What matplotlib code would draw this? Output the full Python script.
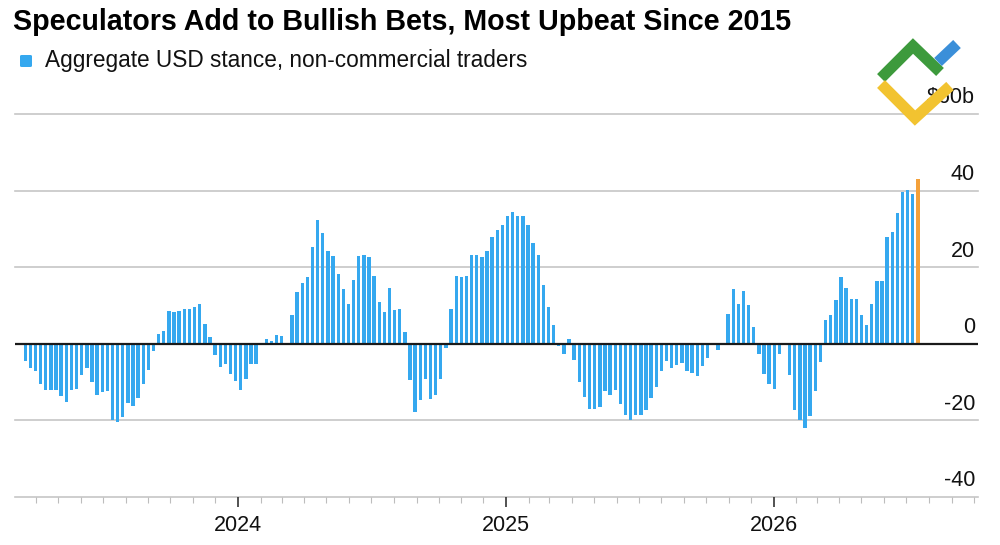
import matplotlib
matplotlib.use('Agg')
import matplotlib.pyplot as plt
import matplotlib.dates as mdates
from matplotlib.lines import Line2D
import pandas as pd

# ---- data (weekly, $bn) ----
values = [
    -4.6, -6.2, -7.0, -10.4, -12.0, -12.0, -12.0, -13.7, -15.3, -12.0,
    -11.7, -8.1, -6.2, -10.1, -13.3, -12.7, -12.3, -19.8, -20.5, -19.1,
    -15.5, -16.2, -14.2, -10.4, -6.8, -1.8, 2.6, 3.4, 8.6, 8.4,
    8.6, 9.0, 9.0, 9.5, 10.3, 5.1, 1.9, -3.0, -6.1, -5.3,
    -8.0, -9.7, -12.1, -9.1, -5.4, -5.4, -0.3, 1.3, 0.8, 2.3,
    2.1, 0.2, 7.5, 13.5, 15.9, 17.4, 25.2, 32.3, 28.9, 24.1,
    23.0, 18.1, 14.4, 10.3, 16.6, 22.8, 23.3, 22.6, 17.6, 11.0,
    8.3, 14.5, 8.8, 9.1, 3.1, -9.5, -17.8, -14.6, -9.1, -14.4,
    -13.4, -9.1, -1.2, 9.1, 17.7, 17.5, 17.7, 23.1, 23.1, 22.7,
    24.1, 28.0, 29.6, 31.0, 33.3, 34.3, 33.4, 33.4, 31.0, 26.3,
    23.3, 15.3, 9.6, 5.0, -0.7, -2.6, 1.2, -4.2, -10.1, -13.9,
    -17.0, -17.0, -16.5, -12.3, -13.3, -12.0, -15.7, -18.5, -20.0, -18.5,
    -18.5, -17.4, -14.2, -11.3, -7.0, -4.6, -6.2, -5.5, -5.0, -7.0,
    -7.7, -8.5, -5.9, -3.7, 0.0, -1.5, 0.0, 7.7, 14.3, 10.4,
    13.9, 10.0, 4.5, -2.7, -7.9, -10.5, -11.8, -2.6, 0.0, -8.1,
    -17.2, -20.0, -22.0, -18.8, -12.3, -4.8, 6.1, 7.4, 11.5, 17.4,
    14.5, 11.7, 11.7, 7.6, 5.0, 10.4, 16.4, 16.4, 27.8, 29.3,
    34.1, 39.7, 40.2, 39.0, 43.0,
]
start_date = '2023-03-17'
dates = pd.date_range(start_date, periods=len(values), freq='7D').to_pydatetime()

ytick_values = [-40, -20, 0, 20, 40, 60]
ytick_labels = ['-40', '-20', '0', '20', '40', '$60b']
title = 'Speculators Add to Bullish Bets, Most Upbeat Since 2015'
legend_label = 'Aggregate USD stance, non-commercial traders'

BLUE = '#35a8ef'
ORANGE = '#f4a13a'

plt.rcParams['font.family'] = ['Liberation Sans', 'DejaVu Sans']

W, H = 1000, 545
fig = plt.figure(figsize=(W / 100, H / 100), dpi=100)
fig.patch.set_facecolor('white')

def fx(px):
    return px / W

def fy(py):
    return 1 - py / H

ax = fig.add_axes([fx(15), fy(497), fx(978) - fx(15), fy(114) - fy(497)])

colors = [BLUE] * (len(values) - 1) + [ORANGE]
ax.bar(dates, values, width=4.6, color=colors, zorder=3, linewidth=0)

ax.set_ylim(-40, 60)
t0 = pd.Timestamp(start_date)
ax.set_xlim(t0 - pd.Timedelta(days=14), t0 + pd.Timedelta(days=1300))

for yv in ytick_values:
    if yv != 0:
        ax.axhline(yv, color='#c6c6c6', lw=1.2, zorder=1, clip_on=False)
ax.axhline(0, color='#1a1a1a', lw=1.6, zorder=4)

for yv, lab in zip(ytick_values, ytick_labels):
    ax.annotate(lab, xy=(0.997, yv), xycoords=('axes fraction', 'data'),
                xytext=(0, 4), textcoords='offset points',
                ha='right', va='bottom', fontsize=15.5, color='#111111', zorder=5)

for s in ax.spines.values():
    s.set_visible(False)
ax.set_yticks([])

ax.xaxis.set_major_locator(mdates.YearLocator())
ax.xaxis.set_major_formatter(mdates.DateFormatter('%Y'))
ax.xaxis.set_minor_locator(mdates.MonthLocator())
ax.tick_params(axis='x', which='major', length=7, width=1.2, color='#333333',
               labelsize=15.5, pad=6, labelcolor='#111111')
ax.tick_params(axis='x', which='minor', length=4, width=0.8, color='#bdbdbd')

# title and legend
fig.text(fx(13), fy(22), title, fontsize=20.6, fontweight='bold', ha='left', va='center', color='#000000')
fig.patches.append(matplotlib.patches.FancyBboxPatch(
    (fx(20), fy(67)), fx(12), fy(55) - fy(67), boxstyle='round,pad=0,rounding_size=0.002',
    transform=fig.transFigure, facecolor=BLUE, edgecolor='none'))
fig.text(fx(45), fy(61), legend_label, fontsize=16.3, ha='left', va='center', color='#111111')

# watermark logo (approximation)
def pline(pts, color, lw):
    xs = [fx(p[0]) for p in pts]
    ys = [fy(p[1]) for p in pts]
    fig.lines.append(Line2D(xs, ys, transform=fig.transFigure, color=color, lw=lw,
                            solid_capstyle='butt', solid_joinstyle='miter', zorder=10))

pline([(881, 78), (913, 46), (940, 72)], '#3d9a3c', 8)
pline([(881, 84), (915, 118), (950, 86)], '#f2c330', 8)
pline([(938, 62), (957, 44)], '#3b8fd9', 8)

fig.savefig('out.png', dpi=100, facecolor='white')
